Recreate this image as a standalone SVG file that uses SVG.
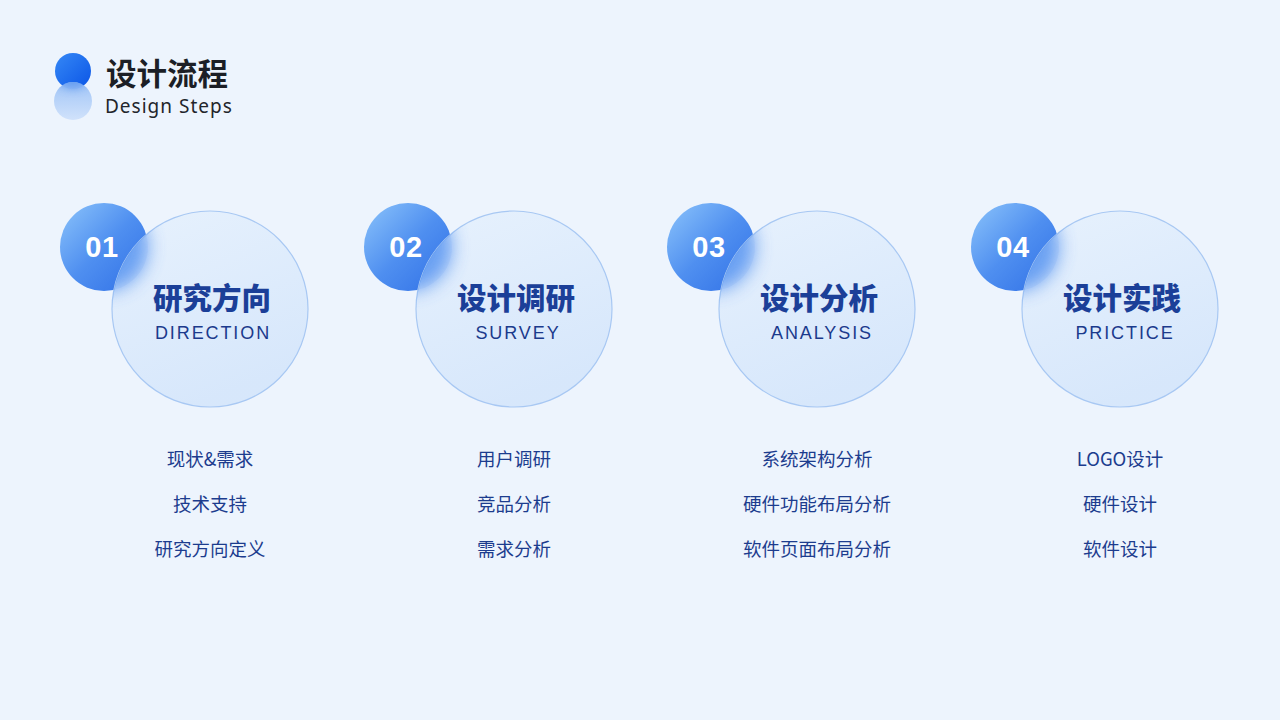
<svg xmlns="http://www.w3.org/2000/svg" width="1280" height="720" viewBox="0 0 1280 720">
<defs>
<style>
.ttl{font-family:"Noto Sans CJK SC","Noto Sans",sans-serif;font-weight:900;font-size:29.5px;fill:#1b3f98;text-anchor:middle}
.en{font-family:"Liberation Sans","Noto Sans",sans-serif;font-size:18px;fill:#1b3a8c;text-anchor:middle;letter-spacing:1.9px}
.num{font-family:"Liberation Sans","Noto Sans",sans-serif;font-weight:700;font-size:29px;fill:#ffffff;text-anchor:middle;letter-spacing:0.5px}
.item{font-family:"Noto Sans CJK SC","Noto Sans",sans-serif;font-size:18.5px;fill:#1c3c8e;text-anchor:middle}
.big{fill:url(#glass);stroke:#a8c8f3;stroke-width:1.2}
.small{fill:url(#blueg)}
</style>
<linearGradient id="blueg" x1="0" y1="0" x2="1" y2="1">
<stop offset="0" stop-color="#8cc4fb"/>
<stop offset="0.5" stop-color="#4f8ff0"/>
<stop offset="1" stop-color="#2f6fe6"/>
</linearGradient>
<linearGradient id="glass" x1="0" y1="0" x2="0.4" y2="1">
<stop offset="0" stop-color="#e6f1fd" stop-opacity="0.92"/>
<stop offset="1" stop-color="#d5e6fb" stop-opacity="0.92"/>
</linearGradient>
<linearGradient id="hdr1" x1="0" y1="0" x2="1" y2="1">
<stop offset="0" stop-color="#3588f6"/>
<stop offset="1" stop-color="#0b55e6"/>
</linearGradient>
<linearGradient id="hdr2" x1="0" y1="0" x2="0" y2="1">
<stop offset="0" stop-color="#9cc2f6"/>
<stop offset="1" stop-color="#cfe1fb"/>
</linearGradient>
<filter id="blur" x="-50%" y="-50%" width="200%" height="200%"><feGaussianBlur stdDeviation="9"/></filter>
<filter id="blur2" x="-50%" y="-50%" width="200%" height="200%"><feGaussianBlur stdDeviation="4"/></filter>
<clipPath id="c1"><circle cx="210" cy="309" r="98"/></clipPath>
<clipPath id="c2"><circle cx="514" cy="309" r="98"/></clipPath>
<clipPath id="c3"><circle cx="817" cy="309" r="98"/></clipPath>
<clipPath id="c4"><circle cx="1120" cy="309" r="98"/></clipPath>
<clipPath id="ch"><circle cx="73" cy="101" r="19"/></clipPath>
</defs>
<rect width="1280" height="720" fill="#edf4fd"/>

<g id="header">
<circle cx="73" cy="71" r="18" fill="url(#hdr1)"/>
<circle cx="73" cy="101" r="19" fill="url(#hdr2)" opacity="0.95"/>
<g clip-path="url(#ch)"><circle cx="73" cy="71" r="18" fill="#5d97f0" filter="url(#blur2)" opacity="0.8"/></g>
<text x="106" y="85" font-family="Noto Sans CJK SC,Noto Sans,sans-serif" font-weight="700" font-size="30.5" fill="#1c1f26">设计流程</text>
<text x="105" y="113" font-family="Noto Sans,Liberation Sans,sans-serif" font-size="19" fill="#22252b" letter-spacing="1">Design Steps</text>
</g>

<g id="node1">
<circle class="small" cx="104" cy="247" r="44"/>
<text class="num" x="102" y="257">01</text>
<circle class="big" cx="210" cy="309" r="98"/>
<g clip-path="url(#c1)" opacity="0.8"><circle cx="104" cy="247" r="44" fill="#4f8ff0" filter="url(#blur)"/></g>
<text class="ttl" x="212" y="309">研究方向</text>
<text class="en" x="213" y="339">DIRECTION</text>
<text class="item" x="210" y="466">现状&amp;需求</text>
<text class="item" x="210" y="511">技术支持</text>
<text class="item" x="210" y="556">研究方向定义</text>
</g>

<g id="node2">
<circle class="small" cx="408" cy="247" r="44"/>
<text class="num" x="406" y="257">02</text>
<circle class="big" cx="514" cy="309" r="98"/>
<g clip-path="url(#c2)" opacity="0.8"><circle cx="408" cy="247" r="44" fill="#4f8ff0" filter="url(#blur)"/></g>
<text class="ttl" x="516" y="309">设计调研</text>
<text class="en" x="518" y="339">SURVEY</text>
<text class="item" x="514" y="466">用户调研</text>
<text class="item" x="514" y="511">竞品分析</text>
<text class="item" x="514" y="556">需求分析</text>
</g>

<g id="node3">
<circle class="small" cx="711" cy="247" r="44"/>
<text class="num" x="709" y="257">03</text>
<circle class="big" cx="817" cy="309" r="98"/>
<g clip-path="url(#c3)" opacity="0.8"><circle cx="711" cy="247" r="44" fill="#4f8ff0" filter="url(#blur)"/></g>
<text class="ttl" x="819" y="309">设计分析</text>
<text class="en" x="822" y="339">ANALYSIS</text>
<text class="item" x="817" y="466">系统架构分析</text>
<text class="item" x="817" y="511">硬件功能布局分析</text>
<text class="item" x="817" y="556">软件页面布局分析</text>
</g>

<g id="node4">
<circle class="small" cx="1015" cy="247" r="44"/>
<text class="num" x="1013" y="257">04</text>
<circle class="big" cx="1120" cy="309" r="98"/>
<g clip-path="url(#c4)" opacity="0.8"><circle cx="1015" cy="247" r="44" fill="#4f8ff0" filter="url(#blur)"/></g>
<text class="ttl" x="1122" y="309">设计实践</text>
<text class="en" x="1125" y="339">PRICTICE</text>
<text class="item" x="1120" y="466">LOGO设计</text>
<text class="item" x="1120" y="511">硬件设计</text>
<text class="item" x="1120" y="556">软件设计</text>
</g>

<g id="connectors"></g>
</svg>
